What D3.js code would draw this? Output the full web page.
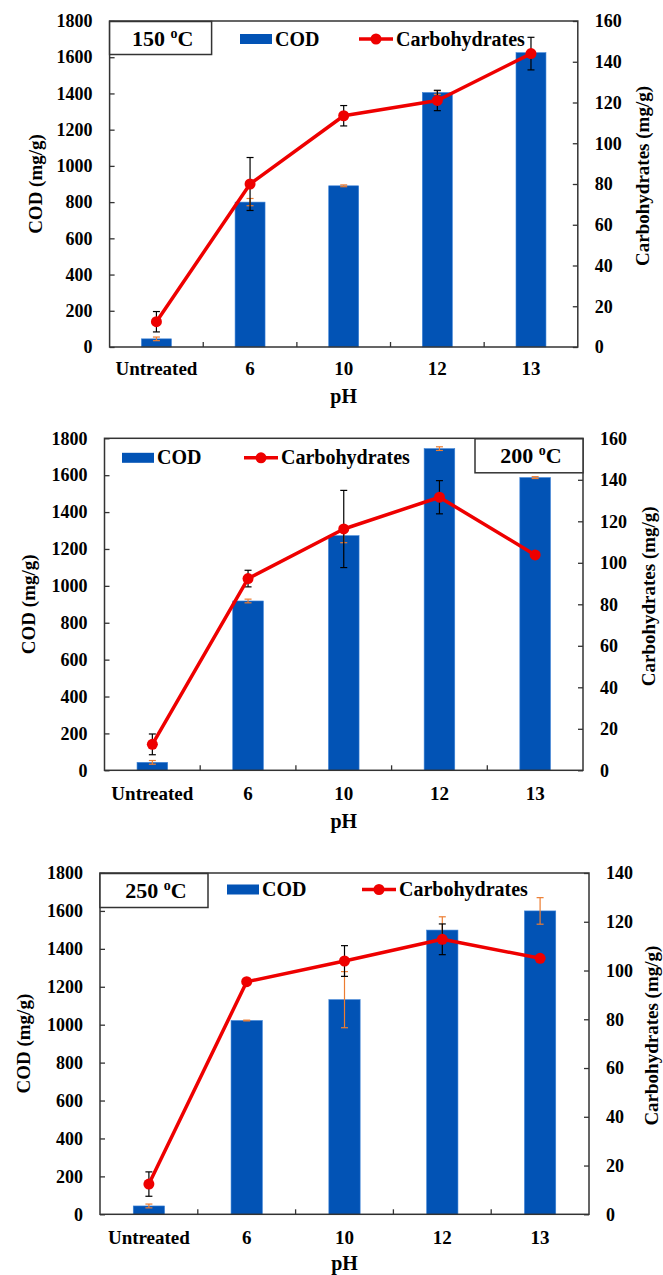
<!DOCTYPE html>
<html>
<head>
<meta charset="utf-8">
<script src="https://cdn.jsdelivr.net/npm/d3@7"></script>
<style>
  body { margin: 0; background: #fff; }
  text { font-family: "Liberation Serif", "Times New Roman", serif; font-weight: bold; fill: #000; }
</style>
</head>
<body>
<script>
// data
const categories = ["Untreated", "6", "10", "12", "13"];
const codTicks = [0, 200, 400, 600, 800, 1000, 1200, 1400, 1600, 1800];

const cod150 = [45, 800, 890, 1405, 1625];
const codErr150 = [10, 20, 5, 10, 5];
const carb150 = [12.4, 80, 113.5, 121, 144];
const carbErr150 = [5, 13, 5, 5, 8];

const cod200 = [43, 918, 1272, 1744, 1587];
const codErr200 = [10, 10, 38, 10, 5];
const carb200 = [12.5, 92.4, 116.3, 131.6, 103.8];
const carbErr200 = [5, 4, 18.6, 8, 0.5];

const cod250 = [44, 1022, 1132, 1499, 1600];
const codErr250 = [10, 2, 148, 70, 70];
const carb250 = [12.4, 95.4, 103.9, 112.8, 105];
const carbErr250 = [5, 0.5, 6.3, 6.3, 0.5];

const BAR = "#0253b5", RED = "#ee0000", ORANGE = "#ed7d31", AXIS = "#333";
const FONT = '"Liberation Serif", "Times New Roman", serif';

const svg = d3.select("body").append("svg")
    .attr("width", 663)
    .attr("height", 1275);

// layout of each panel
const panels = [
  { temp: "150", cod: cod150, codErr: codErr150, carb: carb150, carbErr: carbErr150, carbMax: 160,
    left: 109.6, right: 577.8, top: 21, bottom: 347,
    box: { x: 109.6, w: 102, h: 33 },
    leg: { codX: 240, carbX: 359, y: 39 },
    yTitleL: 35, yTitleR: 642, xLab: 375, pH: 403 },
  { temp: "200", cod: cod200, codErr: codErr200, carb: carb200, carbErr: carbErr200, carbMax: 160,
    left: 104.5, right: 583, top: 438.3, bottom: 770.3,
    box: { x: 475, w: 108, h: 34 },
    leg: { codX: 122, carbX: 244, y: 457.8 },
    yTitleL: 28, yTitleR: 648, xLab: 800, pH: 828 },
  { temp: "250", cod: cod250, codErr: codErr250, carb: carb250, carbErr: carbErr250, carbMax: 140,
    left: 100, right: 589, top: 873, bottom: 1214.3,
    box: { x: 100, w: 108, h: 34 },
    leg: { codX: 227, carbX: 362, y: 889.5 },
    yTitleL: 23.5, yTitleR: 651, xLab: 1244, pH: 1270 }
];

panels.forEach(drawPanel);

function drawPanel(p) {
  const g = svg.append("g");

  const x = d3.scaleBand().domain(categories).range([p.left, p.right]);
  const cx = d => x(d) + x.bandwidth() / 2;
  const yL = d3.scaleLinear().domain([0, 1800]).range([p.bottom, p.top]);
  const yR = d3.scaleLinear().domain([0, p.carbMax]).range([p.bottom, p.top]);

  const rows = categories.map((c, i) => ({
    cat: c, cod: p.cod[i], codErr: p.codErr[i], carb: p.carb[i], carbErr: p.carbErr[i]
  }));

  // bars
  const bw = x.bandwidth() * 0.32;
  g.selectAll("rect.bar").data(rows).enter().append("rect")
      .attr("class", "bar")
      .attr("x", d => cx(d.cat) - bw / 2)
      .attr("width", bw)
      .attr("y", d => yL(d.cod))
      .attr("height", d => yL(0) - yL(d.cod))
      .attr("fill", BAR)
      .attr("stroke", "#3d82d6")
      .attr("stroke-width", 0.6);

  // frame and axes
  g.append("rect")
      .attr("x", p.left).attr("y", p.top)
      .attr("width", p.right - p.left).attr("height", p.bottom - p.top)
      .attr("fill", "none").attr("stroke", AXIS).attr("stroke-width", 1.5);

  const axL = g.append("g").attr("transform", `translate(${p.left},0)`)
      .call(d3.axisLeft(yL).tickValues(codTicks).tickFormat(d3.format("d"))
        .tickSizeInner(-5).tickSizeOuter(0).tickPadding(17));
  const axR = g.append("g").attr("transform", `translate(${p.right},0)`)
      .call(d3.axisRight(yR).tickValues(d3.range(0, p.carbMax + 1, 20)).tickFormat(d3.format("d"))
        .tickSizeInner(-5).tickSizeOuter(0).tickPadding(17));
  [axL, axR].forEach(a => {
    a.attr("font-family", null).attr("font-size", null);
    a.select(".domain").remove();
    a.selectAll("line").attr("stroke", AXIS).attr("stroke-width", 1.3);
    a.selectAll("text").style("font-family", FONT).style("font-weight", "bold")
        .style("font-size", "18px").attr("fill", "#000");
  });

  // category boundary ticks on x axis
  g.selectAll("line.xt").data(categories.slice(1)).enter().append("line")
      .attr("x1", d => x(d)).attr("x2", d => x(d))
      .attr("y1", p.bottom).attr("y2", p.bottom - 5)
      .attr("stroke", AXIS).attr("stroke-width", 1.3);

  g.selectAll("text.xl").data(categories).enter().append("text")
      .attr("x", d => cx(d)).attr("y", p.xLab)
      .attr("text-anchor", "middle")
      .style("font-size", "19px")
      .text(d => d);

  g.append("text").attr("x", (p.left + p.right) / 2).attr("y", p.pH)
      .attr("text-anchor", "middle").style("font-size", "20px").text("pH");

  const midY = (p.top + p.bottom) / 2;
  g.append("text").attr("transform", `translate(${p.yTitleL},${midY}) rotate(-90)`)
      .attr("text-anchor", "middle").attr("dominant-baseline", "central")
      .style("font-size", "19px").text("COD (mg/g)");
  g.append("text").attr("transform", `translate(${p.yTitleR},${midY - 8}) rotate(-90)`)
      .attr("text-anchor", "middle").attr("dominant-baseline", "central")
      .style("font-size", "19px").text("Carbohydrates (mg/g)");

  // error bars
  const cap = 3.5;
  const errBars = (cls, key, errKey, scale, color) => {
    const e = g.selectAll("g." + cls).data(rows).enter().append("g").attr("class", cls)
        .attr("stroke", color).attr("stroke-width", 1.2);
    e.append("line").attr("x1", d => cx(d.cat)).attr("x2", d => cx(d.cat))
        .attr("y1", d => scale(d[key] - d[errKey])).attr("y2", d => scale(d[key] + d[errKey]));
    e.append("line").attr("x1", d => cx(d.cat) - cap).attr("x2", d => cx(d.cat) + cap)
        .attr("y1", d => scale(d[key] + d[errKey])).attr("y2", d => scale(d[key] + d[errKey]));
    e.append("line").attr("x1", d => cx(d.cat) - cap).attr("x2", d => cx(d.cat) + cap)
        .attr("y1", d => scale(d[key] - d[errKey])).attr("y2", d => scale(d[key] - d[errKey]));
  };
  errBars("ecod", "cod", "codErr", yL, ORANGE);
  errBars("ecarb", "carb", "carbErr", yR, "#000");

  // carbohydrates line
  const line = d3.line().x(d => cx(d.cat)).y(d => yR(d.carb));
  g.append("path").datum(rows).attr("d", line)
      .attr("fill", "none").attr("stroke", RED).attr("stroke-width", 3.5).attr("stroke-linejoin", "round");
  g.selectAll("circle.pt").data(rows).enter().append("circle")
      .attr("cx", d => cx(d.cat)).attr("cy", d => yR(d.carb)).attr("r", 5.5).attr("fill", RED);

  // temperature box
  g.append("rect").attr("x", p.box.x).attr("y", p.top + 0.5)
      .attr("width", p.box.w).attr("height", p.box.h)
      .attr("fill", "#fff").attr("stroke", AXIS).attr("stroke-width", 1.5);
  const t = g.append("text").attr("x", p.box.x + p.box.w / 2 + 2).attr("y", p.top + p.box.h / 2 + 8)
      .attr("text-anchor", "middle").style("font-size", "22px");
  t.append("tspan").text(p.temp + " ");
  t.append("tspan").attr("dy", -8).style("font-size", "14px").text("o");
  t.append("tspan").attr("dy", 8).text("C");

  // legend
  const L = p.leg;
  g.append("rect").attr("x", L.codX).attr("y", L.y - 5).attr("width", 32).attr("height", 10).attr("fill", BAR);
  g.append("text").attr("x", L.codX + 35).attr("y", L.y + 6.5).style("font-size", "20px").text("COD");
  g.append("line").attr("x1", L.carbX).attr("x2", L.carbX + 34).attr("y1", L.y).attr("y2", L.y)
      .attr("stroke", RED).attr("stroke-width", 3.5);
  g.append("circle").attr("cx", L.carbX + 17).attr("cy", L.y).attr("r", 5.5).attr("fill", RED);
  g.append("text").attr("x", L.carbX + 37).attr("y", L.y + 6.5).style("font-size", "20px").text("Carbohydrates");
}
</script>
</body>
</html>
